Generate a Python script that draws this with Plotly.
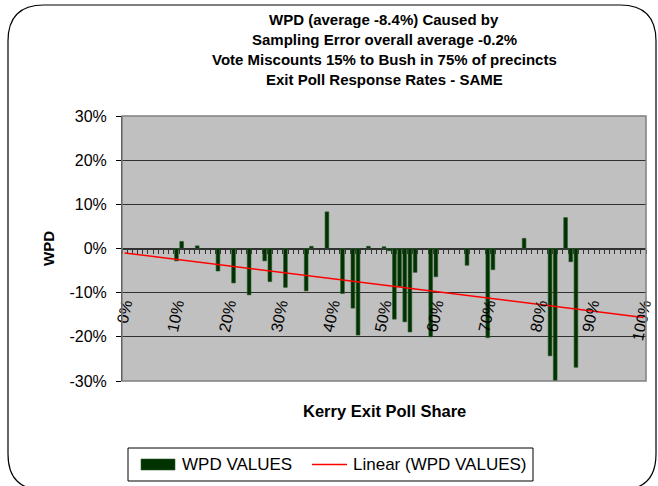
import plotly.graph_objects as go

# ---- data ----
kerry_share = [10, 11, 14, 18, 21, 24, 27, 28, 31, 35, 36, 39, 42, 44, 45, 47,
               50, 51, 52, 53, 54, 55, 56, 59, 60, 66, 70, 71, 77, 82, 83, 85, 86, 87]
wpd_values = [-2.8, 1.6, 0.6, -5.1, -7.8, -10.5, -2.8, -7.5, -8.8, -9.6, 0.5, 8.3,
              -10.2, -13.5, -19.6, 0.5, 0.4, -0.5, -16.0, -8.6, -16.6, -18.9, -5.4,
              -20.0, -6.4, -3.8, -20.2, -4.8, 2.3, -24.3, -30.4, 7.0, -3.0, -26.9]
trend_x = [0, 100]
trend_y = [-1.0, -15.6]
x_tick_vals = [0, 10, 20, 30, 40, 50, 60, 70, 80, 90, 100]
x_tick_text = ["0%", "10%", "20%", "30%", "40%", "50%", "60%", "70%", "80%", "90%", "100%"]
y_tick_vals = [-30, -20, -10, 0, 10, 20, 30]
y_tick_text = ["-30%", "-20%", "-10%", "0%", "10%", "20%", "30%"]
title_lines = ["WPD (average -8.4%) Caused by",
               "Sampling Error overall average -0.2%",
               "Vote Miscounts 15% to Bush in 75% of precincts",
               "Exit Poll Response Rates - SAME"]
bar_name = "WPD VALUES"
trend_name = "Linear (WPD VALUES)"

BAR_COLOR = "#003300"
BAR_EDGE = "#2f5a2f"
TREND_COLOR = "#ff0000"

W, H = 658, 486
ML, MR, MT, MB = 122, 12, 116, 105
PW, PH = W - ML - MR, H - MT - MB
FONT = "Liberation Sans, Arial, sans-serif"


def px(X):
    return (X - ML) / PW


def py(Y):
    return (H - MB - Y) / PH


fig = go.Figure()
fig.add_trace(go.Bar(x=kerry_share, y=wpd_values, name=bar_name, width=0.72,
                     marker=dict(color=BAR_COLOR, line=dict(color=BAR_EDGE, width=0.6))))
fig.add_trace(go.Scatter(x=trend_x, y=trend_y, mode="lines", name=trend_name,
                         xaxis="x2", line=dict(color=TREND_COLOR, width=1.5)))

# rounded chart border
x0, x1, y0, y1, r = 8, 656, 5, 490, 36
path = (f"M{px(x0 + r)},{py(y0)} L{px(x1 - r)},{py(y0)} Q{px(x1)},{py(y0)} {px(x1)},{py(y0 + r)} "
        f"L{px(x1)},{py(y1 - r)} Q{px(x1)},{py(y1)} {px(x1 - r)},{py(y1)} "
        f"L{px(x0 + r)},{py(y1)} Q{px(x0)},{py(y1)} {px(x0)},{py(y1 - r)} "
        f"L{px(x0)},{py(y0 + r)} Q{px(x0)},{py(y0)} {px(x0 + r)},{py(y0)} Z")
shapes = [
    dict(type="path", xref="paper", yref="paper", path=path, line=dict(color="black", width=1.2),
         layer="below"),
    dict(type="rect", xref="paper", yref="paper", x0=0, x1=1, y0=0, y1=1,
         line=dict(color="#808080", width=1.5), layer="above"),
    # legend box and keys
    dict(type="rect", xref="paper", yref="paper", x0=px(128), x1=px(533), y0=py(481), y1=py(448),
         line=dict(color="black", width=1), fillcolor="white"),
    dict(type="rect", xref="paper", yref="paper", x0=px(141), x1=px(175), y0=py(470), y1=py(459),
         line=dict(color=BAR_EDGE, width=0.6), fillcolor=BAR_COLOR),
    dict(type="line", xref="paper", yref="paper", x0=px(312), x1=px(347), y0=py(464.5), y1=py(464.5),
         line=dict(color=TREND_COLOR, width=1.5)),
]

annotations = []
for i, t in enumerate(title_lines):
    annotations.append(dict(text=f"<b>{t}</b>", xref="paper", yref="paper",
                            x=px(384), y=py(19 + 20 * i), xanchor="center", yanchor="middle",
                            showarrow=False, font=dict(size=15, color="black", family=FONT)))
annotations.append(dict(text="<b>Kerry Exit Poll Share</b>", xref="paper", yref="paper",
                        x=px(384), y=py(411), xanchor="center", yanchor="middle",
                        showarrow=False, font=dict(size=16.5, color="black", family=FONT)))
annotations.append(dict(text="<b>WPD</b>", xref="paper", yref="paper", textangle=-90,
                        x=px(48), y=py(249), xanchor="center", yanchor="middle",
                        showarrow=False, font=dict(size=15, color="black", family=FONT)))
annotations.append(dict(text=bar_name, xref="paper", yref="paper", x=px(180), y=py(464.5),
                        xanchor="left", yanchor="middle", showarrow=False,
                        font=dict(size=17, color="black", family=FONT)))
annotations.append(dict(text=trend_name, xref="paper", yref="paper", x=px(351), y=py(464.5),
                        xanchor="left", yanchor="middle", showarrow=False,
                        font=dict(size=17, color="black", family=FONT)))

fig.update_layout(
    width=W, height=H,
    margin=dict(l=ML, r=MR, t=MT, b=MB, autoexpand=False),
    paper_bgcolor="white", plot_bgcolor="#c0c0c0",
    font=dict(family=FONT, size=16, color="black"),
    showlegend=False,
    bargap=0.3,
    shapes=shapes,
    annotations=annotations,
    xaxis=dict(range=[-0.5, 100.5], anchor="free", position=0.5,
               showline=True, linecolor="#333333", linewidth=1,
               ticks="outside", tickvals=[k + 0.5 for k in range(-1, 101)],
               ticklen=4, tickcolor="#333333", showticklabels=False,
               showgrid=False, zeroline=False, layer="below traces", automargin=False),
    xaxis2=dict(range=[-0.5, 100.5], overlaying="x", anchor="free", position=py(291),
                side="bottom", showline=False, ticks="", tickvals=x_tick_vals,
                ticktext=x_tick_text, tickangle=-78, showgrid=False, zeroline=False,
                automargin=False, tickfont=dict(size=16, family=FONT, color="black")),
    yaxis=dict(range=[-30, 30], tickvals=y_tick_vals, ticktext=y_tick_text,
               showline=True, linecolor="black", linewidth=1, ticks="outside",
               ticklen=5, tickcolor="black", showgrid=True, gridcolor="#303030",
               gridwidth=1, zeroline=False, ticklabelstandoff=6, automargin=False,
               tickfont=dict(size=16, family=FONT, color="black")),
)

fig.write_html("out.html", config={"displayModeBar": False},
               post_script="document.body.style.margin='0';document.body.style.overflow='hidden';")
